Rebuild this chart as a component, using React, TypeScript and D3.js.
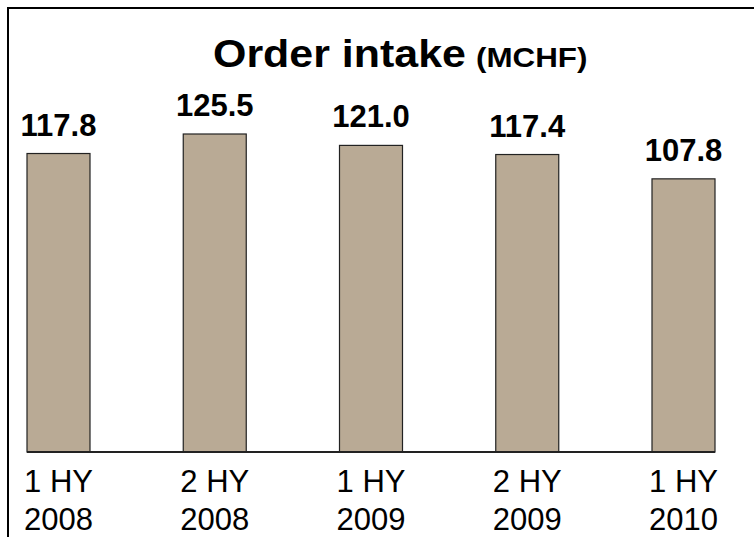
import React from "react";
import * as d3 from "d3";

const categories = ["1 HY|2008", "2 HY|2008", "1 HY|2009", "2 HY|2009", "1 HY|2010"];
const values = [117.8, 125.5, 121.0, 117.4, 107.8];
const valueLabels = ["117.8", "125.5", "121.0", "117.4", "107.8"];
const titleMain = "Order intake";
const titleUnit = "(MCHF)";

const W = 754;
const H = 537;

export default function App() {
  const x = d3.scalePoint<string>().domain(categories).range([58.5, 683.5]);
  const bw = 63;
  const y = d3.scaleLinear().domain([0, 125.5]).range([452, 134]);
  const firstC = x(categories[0]) as number;
  const lastC = x(categories[categories.length - 1]) as number;
  const font = "Liberation Sans, Arial, sans-serif";

  return (
    <svg
      width={W}
      height={H}
      style={{ position: "absolute", left: 0, top: 0, background: "#fff" }}
      fontFamily={font}
    >
      <rect x={0} y={0} width={W} height={H} fill="#fff" />
      <rect x={8} y={8} width={W + 20} height={H + 20} fill="none" stroke="#000" strokeWidth={2} />
      <text
        transform="translate(213,67) scale(1.13,1)"
        fontWeight="bold"
        fontSize={38}
        fill="#000"
      >
        {titleMain}
      </text>
      <text
        transform="translate(476,67) scale(1.12,1)"
        fontWeight="bold"
        fontSize={28}
        fill="#000"
      >
        {titleUnit}
      </text>
      {categories.map((c, i) => {
        const cx = x(c) as number;
        return (
          <g key={c}>
            <rect
              x={cx - bw / 2}
              y={y(values[i])}
              width={bw}
              height={y(0) - y(values[i])}
              fill="#b9aa95"
              stroke="#222"
              strokeWidth={1.2}
            />
            <text
              x={cx}
              y={y(values[i]) - 18}
              textAnchor="middle"
              fontWeight="bold"
              fontSize={31}
              fill="#000"
            >
              {valueLabels[i]}
            </text>
            {c.split("|").map((line, j) => (
              <text
                key={j}
                x={cx}
                y={492 + j * 38}
                textAnchor="middle"
                fontSize={31}
                fill="#000"
              >
                {line}
              </text>
            ))}
          </g>
        );
      })}
      <line
        x1={firstC - bw / 2}
        x2={lastC + bw / 2}
        y1={y(0)}
        y2={y(0)}
        stroke="#222"
        strokeWidth={2}
      />
    </svg>
  );
}
